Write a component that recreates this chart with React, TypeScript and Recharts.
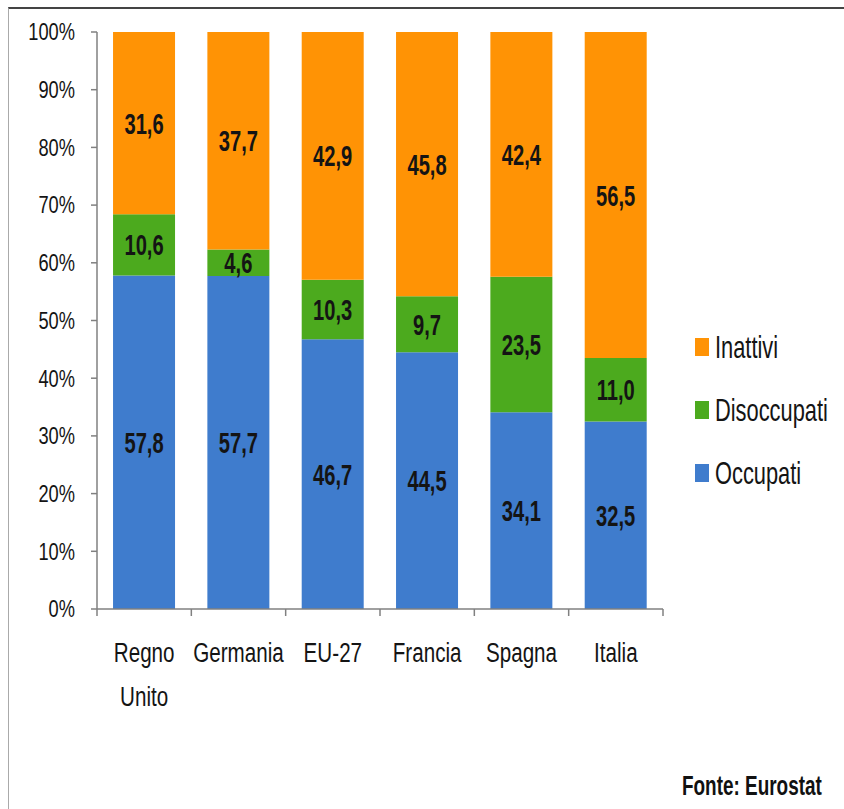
import React from 'react';
import { BarChart, Bar, XAxis, YAxis, LabelList } from 'recharts';

const categories = ['Regno Unito', 'Germania', 'EU-27', 'Francia', 'Spagna', 'Italia'];
const occupati = [57.8, 57.7, 46.7, 44.5, 34.1, 32.5];
const disoccupati = [10.6, 4.6, 10.3, 9.7, 23.5, 11.0];
const inattivi = [31.6, 37.7, 42.9, 45.8, 42.4, 56.5];
const yTicks = [0, 10, 20, 30, 40, 50, 60, 70, 80, 90, 100];

const data = categories.map((name, i) => ({
  name,
  occupati: occupati[i],
  disoccupati: disoccupati[i],
  inattivi: inattivi[i],
}));

// narrow look: Liberation Sans squeezed horizontally, a bit taller
const FONT = "'Liberation Sans', Arial, sans-serif";
const AXIS = '#808080';
const INK = '#141414';
const COLORS = { inattivi: '#FF9305', disoccupati: '#4CAA1E', occupati: '#3F7CCD' };

const legendItems = [
  { label: 'Inattivi', color: COLORS.inattivi },
  { label: 'Disoccupati', color: COLORS.disoccupati },
  { label: 'Occupati', color: COLORS.occupati },
];

const fmt = (v: any) => Number(v).toFixed(1).replace('.', ',');

// text anchored at (x, y) where y is the baseline, squeezed by sx/sy
const SText = ({ x, y, sx, sy, size, anchor = 'start', bold = false, children }: any) => (
  <text transform={`translate(${x},${y}) scale(${sx},${sy})`} x={0} y={0} textAnchor={anchor}
    fontFamily={FONT} fontSize={size} fontWeight={bold ? 700 : 400} fill={INK}>
    {children}
  </text>
);

const YTick = (props: any) => {
  const { x, y, payload } = props;
  return <SText x={x} y={y + 8.3} sx={0.83} sy={1.06} size={22} anchor="end">{`${Math.round(payload.value * 100)}%`}</SText>;
};

// category label plus the tick marks on the band edges (Excel style)
const CatTick = (props: any) => {
  const { x, y, payload, index, width, visibleTicksCount } = props;
  const band = width / visibleTicksCount;
  const lines = String(payload.value).split(' ');
  const left = x - band / 2;
  const right = x + band / 2;
  return (
    <g>
      <line x1={left} x2={left} y1={y} y2={y + 7} stroke={AXIS} strokeWidth={1.5} />
      {index === visibleTicksCount - 1 && (
        <line x1={right} x2={right} y1={y} y2={y + 7} stroke={AXIS} strokeWidth={1.5} />
      )}
      {lines.map((line, i) => (
        <SText key={i} x={x} y={y + 53 + i * 44} sx={0.86} sy={1.16} size={24} anchor="middle">{line}</SText>
      ))}
    </g>
  );
};

const BarValue = (props: any) => {
  const { x, y, width, height, value } = props;
  const cx = x + width / 2;
  const cy = y + height / 2;
  return (
    <SText x={cx} y={cy + 10.5} sx={0.84} sy={1.22} size={24} anchor="middle" bold>
      {fmt(value)}
    </SText>
  );
};

export default function App() {
  return (
    <div style={{ position: 'absolute', left: 0, top: 0, width: 844, height: 809, background: '#fff', overflow: 'hidden' }}>
      <div style={{ position: 'absolute', left: 8, top: 7, width: 850, height: 820, borderTop: '2px solid #444', borderLeft: '1px solid #aaa' }} />
      <BarChart width={844} height={809} data={data} barCategoryGap="17%" stackOffset="expand"
        margin={{ top: 32, right: 181, bottom: 199, left: 0 }}>
        <XAxis dataKey="name" axisLine={{ stroke: AXIS, strokeWidth: 1.5 }} tickLine={false}
          tickSize={0} tickMargin={0} interval={0} height={1} tick={<CatTick />} />
        <YAxis domain={[0, 1]} ticks={yTicks.map((t) => t / 100)} width={97} tickSize={6} tickMargin={16}
          axisLine={{ stroke: AXIS, strokeWidth: 1.5 }}
          tickLine={{ stroke: AXIS, strokeWidth: 1.5 }} tick={<YTick />} />
        <Bar dataKey="occupati" stackId="a" fill={COLORS.occupati} isAnimationActive={false}>
          <LabelList dataKey="occupati" content={<BarValue />} />
        </Bar>
        <Bar dataKey="disoccupati" stackId="a" fill={COLORS.disoccupati} isAnimationActive={false}>
          <LabelList dataKey="disoccupati" content={<BarValue />} />
        </Bar>
        <Bar dataKey="inattivi" stackId="a" fill={COLORS.inattivi} isAnimationActive={false}>
          <LabelList dataKey="inattivi" content={<BarValue />} />
        </Bar>
      </BarChart>
      {legendItems.map((item, i) => (
        <div key={item.label} style={{ position: 'absolute', left: 695, top: 333 + i * 63, display: 'flex', alignItems: 'center' }}>
          <span style={{ display: 'inline-block', width: 14, height: 18, background: item.color, marginRight: 6 }} />
          <span style={{ fontFamily: FONT, fontSize: 26, color: INK, lineHeight: '28px', whiteSpace: 'nowrap', display: 'inline-block', transform: 'scale(0.84,1.18)', transformOrigin: 'left center' }}>
            {item.label}
          </span>
        </div>
      ))}
      <div style={{ position: 'absolute', left: 682, top: 770, fontFamily: FONT, fontSize: 22, fontWeight: 700, color: '#111', whiteSpace: 'nowrap', transform: 'scale(0.86,1.27)', transformOrigin: 'left top' }}>
        Fonte: Eurostat
      </div>
    </div>
  );
}
